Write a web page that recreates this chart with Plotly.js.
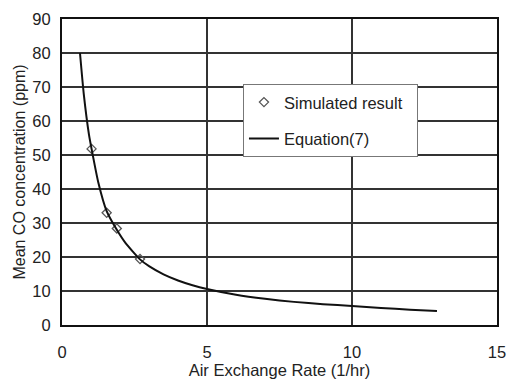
<!DOCTYPE html>
<html><head><meta charset="utf-8">
<script src="https://cdn.plot.ly/plotly-3.0.1.min.js"></script>
<style>html,body{margin:0;padding:0;background:#fff}#c{width:508px;height:382px}</style>
</head><body><div id="c"></div>
<script>
// Simulated result points
const simX = [1.02, 1.54, 1.89, 2.69];
const simY = [51.8, 33.0, 28.4, 19.4];
// Equation(7) curve
const eqX = [0.62, 0.75, 0.93, 1.02, 1.25, 1.54, 1.89, 2.2, 2.69, 3, 3.5, 4, 4.5, 5, 6, 7, 8, 9, 10, 11, 12, 12.93];
const eqY = [80, 68, 56, 51.8, 42, 33.5, 28, 24, 19.3, 17.3, 14.9, 13.1, 11.7, 10.6, 8.9, 7.7, 6.8, 6.1, 5.6, 5.0, 4.5, 4.1];
const xTicks = [0, 5, 10, 15];
const yTicks = [0, 10, 20, 30, 40, 50, 60, 70, 80, 90];

const F = 'Liberation Sans, Arial, Helvetica, sans-serif';
const traces = [
  {x: simX, y: simY, type: 'scatter', mode: 'markers', name: 'Simulated result\u00a0\u00a0',
   legendgroup: 'a',
   marker: {symbol: 'diamond-open', size: 7, color: '#555', line: {width: 1.3, color: '#555'}}},
  {x: eqX, y: eqY, type: 'scatter', mode: 'lines', name: 'Equation(7)',
   legendgroup: 'b',
   line: {color: '#111', width: 2, shape: 'spline', smoothing: 0.5}}
];
const layout = {
  width: 508, height: 382,
  margin: {l: 62, r: 11, t: 19, b: 57},
  paper_bgcolor: '#fff', plot_bgcolor: '#fff',
  font: {family: F, size: 16, color: '#222'},
  showlegend: true,
  legend: {x: 0.416, y: 0.788, xanchor: 'left', yanchor: 'top',
    bgcolor: '#fff', bordercolor: '#777', borderwidth: 1,
    font: {family: F, size: 16.5, color: '#222'},
    traceorder: 'grouped', tracegroupgap: 12, itemwidth: 30},
  xaxis: {range: [0, 15], tickvals: xTicks, ticktext: xTicks.map(String),
    showgrid: true, gridcolor: '#333', gridwidth: 1.5,
    showline: true, linecolor: '#111', linewidth: 2, mirror: true,
    zeroline: false, ticks: '', ticklabelstandoff: 11,
    tickfont: {family: F, size: 16.5, color: '#222'},
    title: {text: 'Air Exchange Rate (1/hr)', font: {family: F, size: 16.5, color: '#222'}, standoff: 4}},
  yaxis: {range: [0, 90], tickvals: yTicks, ticktext: yTicks.map(String),
    showgrid: true, gridcolor: '#333', gridwidth: 1.6,
    showline: true, linecolor: '#111', linewidth: 2, mirror: true,
    zeroline: false, ticks: '', ticklabelstandoff: 6,
    tickfont: {family: F, size: 16.5, color: '#222'},
    title: {text: 'Mean CO concentration (ppm)', font: {family: F, size: 16, color: '#222'}, standoff: 3}}
};
Plotly.newPlot('c', traces, layout, {displayModeBar: false, staticPlot: true});
</script></body></html>
